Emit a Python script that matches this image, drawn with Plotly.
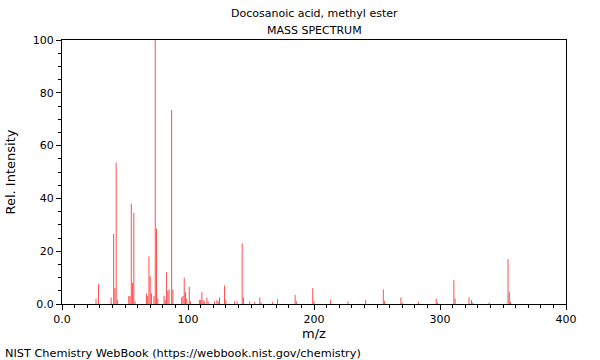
import plotly.graph_objects as go

mz = [27, 29, 39, 41, 42, 43, 44, 53, 54, 55, 56, 57, 58, 67, 68, 69, 70, 71,
      73, 74, 75, 76, 81, 82, 83, 84, 85, 87, 88, 95, 96, 97, 98, 99, 101, 102,
      109, 110, 111, 112, 113, 115, 116, 121, 123, 124, 125, 129, 130, 137, 139,
      143, 144, 149, 153, 157, 158, 167, 171, 185, 186, 199, 200, 213, 227, 241,
      255, 256, 269, 270, 283, 297, 298, 311, 312, 323, 325, 326, 339, 354, 355, 356]
intensity = [2.0, 7.5, 2.5, 26.5, 6.0, 53.5, 1.5, 3.0, 3.0, 38.0, 8.0, 34.5, 1.0, 4.0, 3.0, 18.0, 10.5, 4.0,
             3.0, 100.0, 28.5, 2.0, 3.0, 1.5, 12.0, 5.0, 5.5, 73.5, 5.5, 2.5, 3.0, 10.0, 4.5, 2.0, 6.5, 1.0,
             1.5, 1.5, 4.5, 1.5, 1.0, 2.5, 1.0, 1.0, 1.5, 1.0, 2.5, 7.0, 1.5, 1.0, 1.0,
             23.0, 2.5, 1.0, 0.8, 2.5, 0.5, 0.8, 1.8, 3.5, 1.0, 6.0, 1.0, 1.5, 1.0, 1.5,
             5.5, 1.2, 2.5, 0.5, 0.8, 2.0, 0.5, 9.0, 2.0, 2.5, 1.5, 0.5, 0.5, 17.0, 4.5, 0.8]

title = "Docosanoic acid, methyl ester"
subtitle = "MASS SPECTRUM"
x_label = "m/z"
y_label = "Rel. Intensity"
footer = "NIST Chemistry WebBook (https://webbook.nist.gov/chemistry)"
x_tickvals = [0, 100, 200, 300, 400]
x_ticktext = ["0.0", "100", "200", "300", "400"]
y_tickvals = [0, 20, 40, 60, 80, 100]
y_ticktext = ["0.0", "20", "40", "60", "80", "100"]

xs, ys = [], []
for m, v in zip(mz, intensity):
    xs += [m, m, None]
    ys += [0, v, None]

FONT = "DejaVu Sans"
fig = go.Figure()
fig.add_trace(go.Scatter(x=xs, y=ys, mode="lines",
                         line=dict(color="rgba(255,0,0,0.7)", width=1),
                         hoverinfo="skip", showlegend=False))

fig.update_layout(
    width=600, height=360,
    margin=dict(l=62, r=34, t=40, b=56, autoexpand=False),
    paper_bgcolor="white", plot_bgcolor="white",
    font=dict(family=FONT, size=11, color="black"),
    xaxis=dict(range=[0, 400], tickvals=x_tickvals, ticktext=x_ticktext,
               ticks="outside", ticklen=5, tickcolor="black", automargin=False,
               showline=True, linecolor="black", linewidth=1, mirror=True,
               showgrid=False, zeroline=False,
               minor=dict(dtick=10, ticks="outside", ticklen=3, tickcolor="black"),
               title=dict(text=x_label, standoff=2)),
    yaxis=dict(range=[0, 100], tickvals=y_tickvals, ticktext=y_ticktext,
               ticks="outside", ticklen=5, tickcolor="black", automargin=False,
               showline=True, linecolor="black", linewidth=1, mirror=True,
               showgrid=False, zeroline=False,
               minor=dict(dtick=5, ticks="outside", ticklen=3, tickcolor="black"),
               title=dict(text=y_label, standoff=14)),
    annotations=[
        dict(text=title, xref="paper", yref="paper", x=0.5, y=1, yshift=27,
             showarrow=False, xanchor="center", yanchor="middle", font=dict(size=11)),
        dict(text=subtitle, xref="paper", yref="paper", x=0.5, y=1, yshift=10,
             showarrow=False, xanchor="center", yanchor="middle", font=dict(size=11)),
        dict(text=footer, xref="paper", yref="paper", x=0, y=0, xshift=-59, yshift=-49,
             showarrow=False, xanchor="left", yanchor="middle", font=dict(size=11.3)),
    ],
)
fig.write_html("out.html", config={"displayModeBar": False},
               post_script="document.body.style.margin='0';")
